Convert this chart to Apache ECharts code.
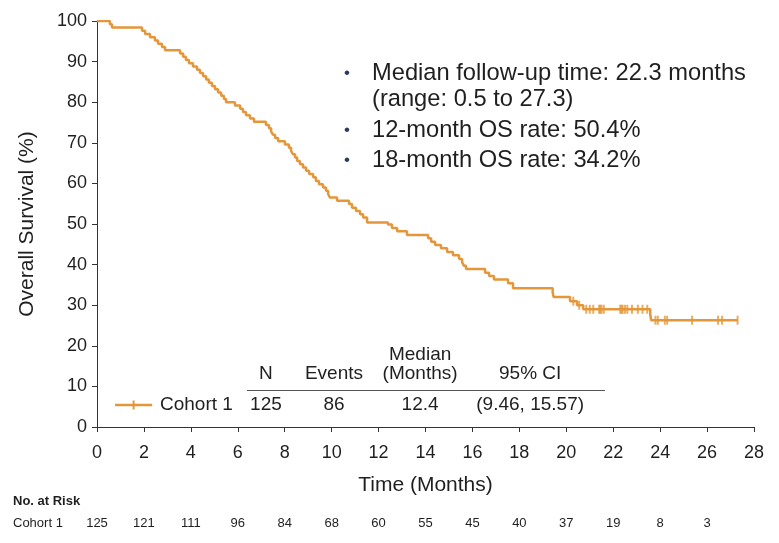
<!DOCTYPE html>
<html><head><meta charset="utf-8">
<script src="https://cdn.jsdelivr.net/npm/echarts@6/dist/echarts.min.js"></script>
<style>html,body{margin:0;padding:0;background:#fff}#c{width:779px;height:543px}</style>
</head><body><div id="c"></div>
<script>
const kmTimes = [0, 0.55, 0.64, 1.92, 2.05, 2.26, 2.47, 2.6, 2.77, 2.9, 3.54, 3.67, 3.79, 3.92, 4.09, 4.26, 4.39, 4.52, 4.65, 4.77, 4.9, 5.03, 5.16, 5.29, 5.41, 5.5, 5.88, 6.1, 6.22, 6.35, 6.52, 6.69, 7.2, 7.33, 7.42, 7.5, 7.59, 7.72, 8.01, 8.18, 8.27, 8.35, 8.44, 8.53, 8.65, 8.78, 8.91, 9.04, 9.21, 9.33, 9.46, 9.63, 9.76, 9.85, 9.93, 10.23, 10.74, 10.87, 11.04, 11.21, 11.34, 11.51, 12.4, 12.57, 12.79, 13.21, 14.11, 14.24, 14.41, 14.66, 14.92, 15.17, 15.43, 15.56, 15.64, 15.73, 16.54, 16.71, 16.92, 17.52, 17.73, 19.42, 19.46, 20.16, 20.46, 20.72, 23.58, 23.62, 27.3];
const kmSurv = [100, 99.2, 98.4, 97.6, 96.8, 96.0, 95.2, 94.4, 93.6, 92.8, 92.0, 91.2, 90.4, 89.6, 88.8, 88.0, 87.2, 86.4, 85.6, 84.8, 84.0, 83.2, 82.4, 81.6, 80.8, 80.0, 79.2, 78.4, 77.6, 76.8, 76.0, 75.2, 74.4, 73.6, 72.8, 72.0, 71.2, 70.4, 69.6, 68.8, 68.0, 67.2, 66.4, 65.5, 64.7, 63.9, 63.1, 62.3, 61.5, 60.6, 59.8, 59.0, 58.2, 57.4, 56.5, 55.7, 54.9, 54.0, 53.2, 52.4, 51.6, 50.4, 49.9, 49.0, 48.2, 47.3, 46.5, 45.6, 44.8, 44.0, 43.1, 42.3, 41.4, 40.6, 39.7, 38.9, 38.0, 37.2, 36.3, 35.4, 34.2, 33.1, 32.0, 31.0, 30.0, 29.0, 27.6, 26.3, 26.3];
const censorTimes = [20.3, 20.55, 20.85, 21.0, 21.15, 21.4, 21.45, 21.5, 21.6, 22.3, 22.35, 22.4, 22.5, 22.6, 22.8, 23.05, 23.25, 23.45, 23.8, 23.9, 24.2, 24.3, 25.36, 26.47, 26.64, 27.3];
const censorSurv = [31.0, 30.0, 29.0, 29.0, 29.0, 29.0, 29.0, 29.0, 29.0, 29.0, 29.0, 29.0, 29.0, 29.0, 29.0, 29.0, 29.0, 29.0, 26.3, 26.3, 26.3, 26.3, 26.3, 26.3, 26.3, 26.3];
const riskTimes = [0, 2, 4, 6, 8, 10, 12, 14, 16, 18, 20, 22, 24, 26];
const riskCounts = [125, 121, 111, 96, 84, 68, 60, 55, 45, 40, 37, 19, 8, 3];
const tableCols = [7.2, 10.1, 13.77, 18.46];
const tableHeader = ['N', 'Events', '(Months)', '95% CI'];
const tableRow = ['125', '86', '12.4', '(9.46, 15.57)'];
const bulletLines = ['Median follow-up time: 22.3 months', '12-month OS rate: 50.4%', '18-month OS rate: 34.2%'];
const COLOR = '#E3973A';
const FONT = 'Liberation Sans, Arial, sans-serif';
const TXT = '#1f1f1f';

const chart = echarts.init(document.getElementById('c'));
chart.setOption({
  animation: false,
  backgroundColor: '#fff',
  grid: { left: 97, right: 25, top: 21, bottom: 116 },
  xAxis: {
    type: 'value', min: 0, max: 28, interval: 2, offset: 8,
    axisLine: { lineStyle: { color: '#333', width: 1 } },
    axisTick: { length: 5, lineStyle: { color: '#333' } },
    axisLabel: { fontSize: 18, color: TXT, margin: 9, fontFamily: FONT },
    splitLine: { show: false },
    name: 'Time (Months)', nameLocation: 'middle', nameGap: 40,
    nameTextStyle: { fontSize: 21, color: TXT, fontFamily: FONT }
  },
  yAxis: {
    type: 'value', min: 0, max: 100, interval: 10, offset: 4,
    axisLine: { show: true, lineStyle: { color: '#333', width: 1 } },
    axisTick: { show: true, length: 5, lineStyle: { color: '#333' } },
    axisLabel: { fontSize: 18, color: TXT, margin: 6, fontFamily: FONT },
    splitLine: { show: false },
    name: 'Overall Survival (%)', nameLocation: 'middle', nameGap: 55,
    nameTextStyle: { fontSize: 21, color: TXT, fontFamily: FONT }
  },
  series: [
    {
      type: 'line', step: 'end', symbol: 'none',
      data: kmTimes.map((t, i) => [t, kmSurv[i]]),
      lineStyle: { color: COLOR, width: 2.5 }
    },
    {
      type: 'scatter', symbol: 'rect', symbolSize: [2, 9],
      data: censorTimes.map((t, i) => [t, censorSurv[i]]),
      itemStyle: { color: COLOR }
    }
  ]
});

const px = t => chart.convertToPixel({ xAxisIndex: 0 }, t);
const py = v => chart.convertToPixel({ yAxisIndex: 0 }, v);
const g = [];
// bullets
const bulletY = [73, 130, 160];
bulletLines.forEach((s, i) => {
  g.push({ type: 'text', x: 347, y: bulletY[i], style: { text: '•', fontSize: 17, fill: '#2c3a5e', align: 'center', verticalAlign: 'middle', fontFamily: FONT } });
  g.push({ type: 'text', x: 372, y: bulletY[i], style: { text: s, fontSize: 23.7, fill: TXT, verticalAlign: 'middle', fontFamily: FONT } });
});
g.push({ type: 'text', x: 372, y: 99, style: { text: '(range: 0.5 to 27.3)', fontSize: 23.7, fill: TXT, verticalAlign: 'middle', fontFamily: FONT } });
// table
const rowY = 405;
const headY = 374;
g.push({ type: 'text', x: px(tableCols[2]), y: 355, style: { text: 'Median', fontSize: 19, fill: TXT, align: 'center', verticalAlign: 'middle', fontFamily: FONT } });
tableHeader.forEach((s, i) => {
  g.push({ type: 'text', x: px(tableCols[i]), y: headY, style: { text: s, fontSize: 19, fill: TXT, align: 'center', verticalAlign: 'middle', fontFamily: FONT } });
  g.push({ type: 'text', x: px(tableCols[i]), y: rowY, style: { text: tableRow[i], fontSize: 19, fill: TXT, align: 'center', verticalAlign: 'middle', fontFamily: FONT } });
});
g.push({ type: 'line', shape: { x1: px(6.39), y1: 390.5, x2: px(21.65), y2: 390.5 }, style: { stroke: '#555', lineWidth: 1.2 } });
// legend
g.push({ type: 'line', shape: { x1: px(0.77), y1: rowY, x2: px(2.35), y2: rowY }, style: { stroke: COLOR, lineWidth: 2.5 } });
g.push({ type: 'line', shape: { x1: px(1.56), y1: rowY - 4.5, x2: px(1.56), y2: rowY + 4.5 }, style: { stroke: COLOR, lineWidth: 2 } });
g.push({ type: 'text', x: 160, y: rowY, style: { text: 'Cohort 1', fontSize: 19, fill: TXT, verticalAlign: 'middle', fontFamily: FONT } });
// number at risk
const NARROW = 'Liberation Sans Narrow, Arial Narrow, sans-serif';
g.push({ type: 'text', x: 13, y: 501, style: { text: 'No. at Risk', fontSize: 13, fontWeight: 'bold', fill: TXT, verticalAlign: 'middle', fontFamily: NARROW } });
g.push({ type: 'text', x: 13, y: 523, style: { text: 'Cohort 1', fontSize: 13, fill: TXT, verticalAlign: 'middle', fontFamily: NARROW } });
riskTimes.forEach((t, i) => {
  g.push({ type: 'text', x: px(t), y: 523, style: { text: String(riskCounts[i]), fontSize: 13, fill: TXT, align: 'center', verticalAlign: 'middle', fontFamily: NARROW } });
});
chart.setOption({ graphic: g });
</script></body></html>
